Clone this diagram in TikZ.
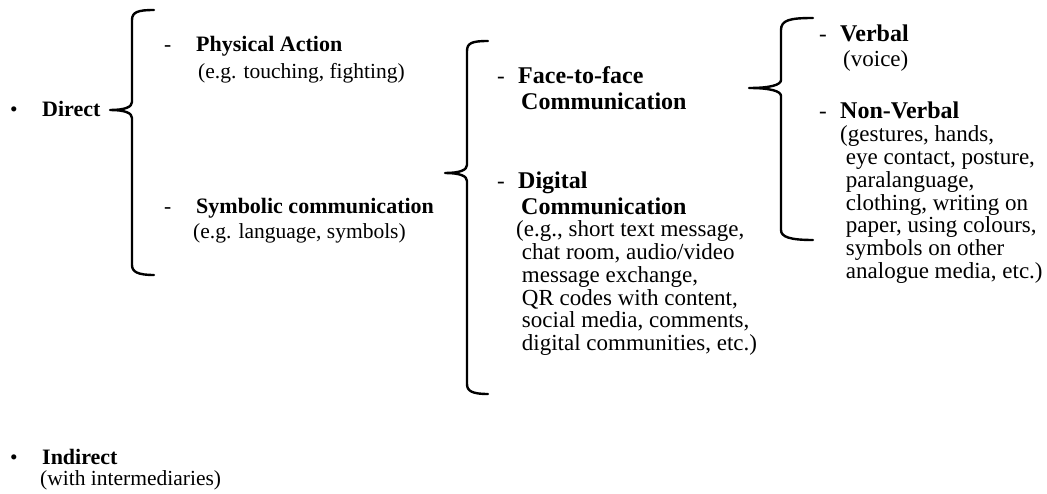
\documentclass[tikz,border=0pt]{standalone}
\usepackage{fontspec}
\setmainfont{Liberation Serif}
\usepackage{tikz}

\newcommand{\stack}[1]{\begin{tabular}[t]{@{}l@{}}#1\end{tabular}}

\begin{document}
\begin{tikzpicture}[
  x=1pt, y=-1pt,
  txt/.style={inner sep=0pt, anchor=base west,
    font=\fontsize{21.5}{22.6}\selectfont},
  head/.style={txt, font=\fontsize{22}{25}\selectfont\bfseries},
  wtxt/.style={txt, font=\fontsize{23}{22.6}\selectfont},
  whead/.style={txt, font=\fontsize{24}{25.5}\selectfont\bfseries},
  bracket/.style={line width=2.4pt, line cap=round, line join=round}
]
  \useasboundingbox (0,0) rectangle (1047,494);

  % direct contact
  \node[txt] (dot1) at (10,117) {\textbullet};
  \node[head] (direct) at (42,117) {Direct};
  \node[txt] (dash1) at (164,52) {-};
  \node[head] (phys) at (196,52) {Physical Action};
  \node[txt] (physex) at (198,79) {(e.g. touching, fighting)};
  \node[txt] (dash2) at (164,214) {-};
  \node[head] (symb) at (196,214) {Symbolic communication};
  \node[txt] (symbex) at (193,239) {(e.g. language, symbols)};

  % symbolic communication
  \node[wtxt] (dash3) at (497,84) {-};
  \node[whead] (face) at (518,84) {\stack{Face-to-face\\\hspace{3pt}Communication}};
  \node[wtxt] (dash4) at (497,189) {-};
  \node[whead] (digi) at (518,189) {\stack{Digital\\\hspace{3pt}Communication}};
  \node[wtxt] (digiex) at (516,237) {\stack{(e.g., short text message,\\
    \ chat room, audio/video\\
    \ message exchange,\\
    \ QR codes with content,\\
    \ social media, comments,\\
    \ digital communities, etc.)}};

  % face-to-face
  \node[wtxt] (dash5) at (819,42) {-};
  \node[whead] (verb) at (840,42) {Verbal};
  \node[wtxt] (verbex) at (843,67) {(voice)};
  \node[wtxt] (dash6) at (819,119) {-};
  \node[whead] (nonverb) at (840,119) {Non-Verbal};
  \node[wtxt] (nonverbex) at (840,142) {\stack{(gestures, hands,\\
    \ eye contact, posture,\\
    \ paralanguage,\\
    \ clothing, writing on\\
    \ paper, using colours,\\
    \ symbols on other\\
    \ analogue media, etc.)}};

  % indirect contact
  \node[txt] (dot2) at (10,464) {\textbullet};
  \node[head] (indirect) at (42,464) {Indirect};
  \node[txt] (indirectex) at (40,485) {(with intermediaries)};

  % brackets
  \draw[bracket] (154,10) .. controls (138,10) and (132,12) .. (132,20)
    -- (132,102) .. controls (132,107) and (125,110) .. (110,110)
    .. controls (125,110) and (132,113) .. (132,118)
    -- (132,265) .. controls (132,272) and (138,275) .. (154,275);
  \draw[bracket] (488,41) .. controls (472,41) and (467,43) .. (467,51)
    -- (467,165) .. controls (467,170) and (460,173) .. (445,173)
    .. controls (460,173) and (467,176) .. (467,181)
    -- (467,384) .. controls (467,391) and (472,394) .. (488,394);
  \draw[bracket] (813,18) .. controls (790,18) and (781,20) .. (781,30)
    -- (781,80) .. controls (781,85) and (770,88) .. (749,88)
    .. controls (770,88) and (781,91) .. (781,96)
    -- (781,230) .. controls (781,237) and (790,240) .. (813,240);
\end{tikzpicture}
\end{document}
